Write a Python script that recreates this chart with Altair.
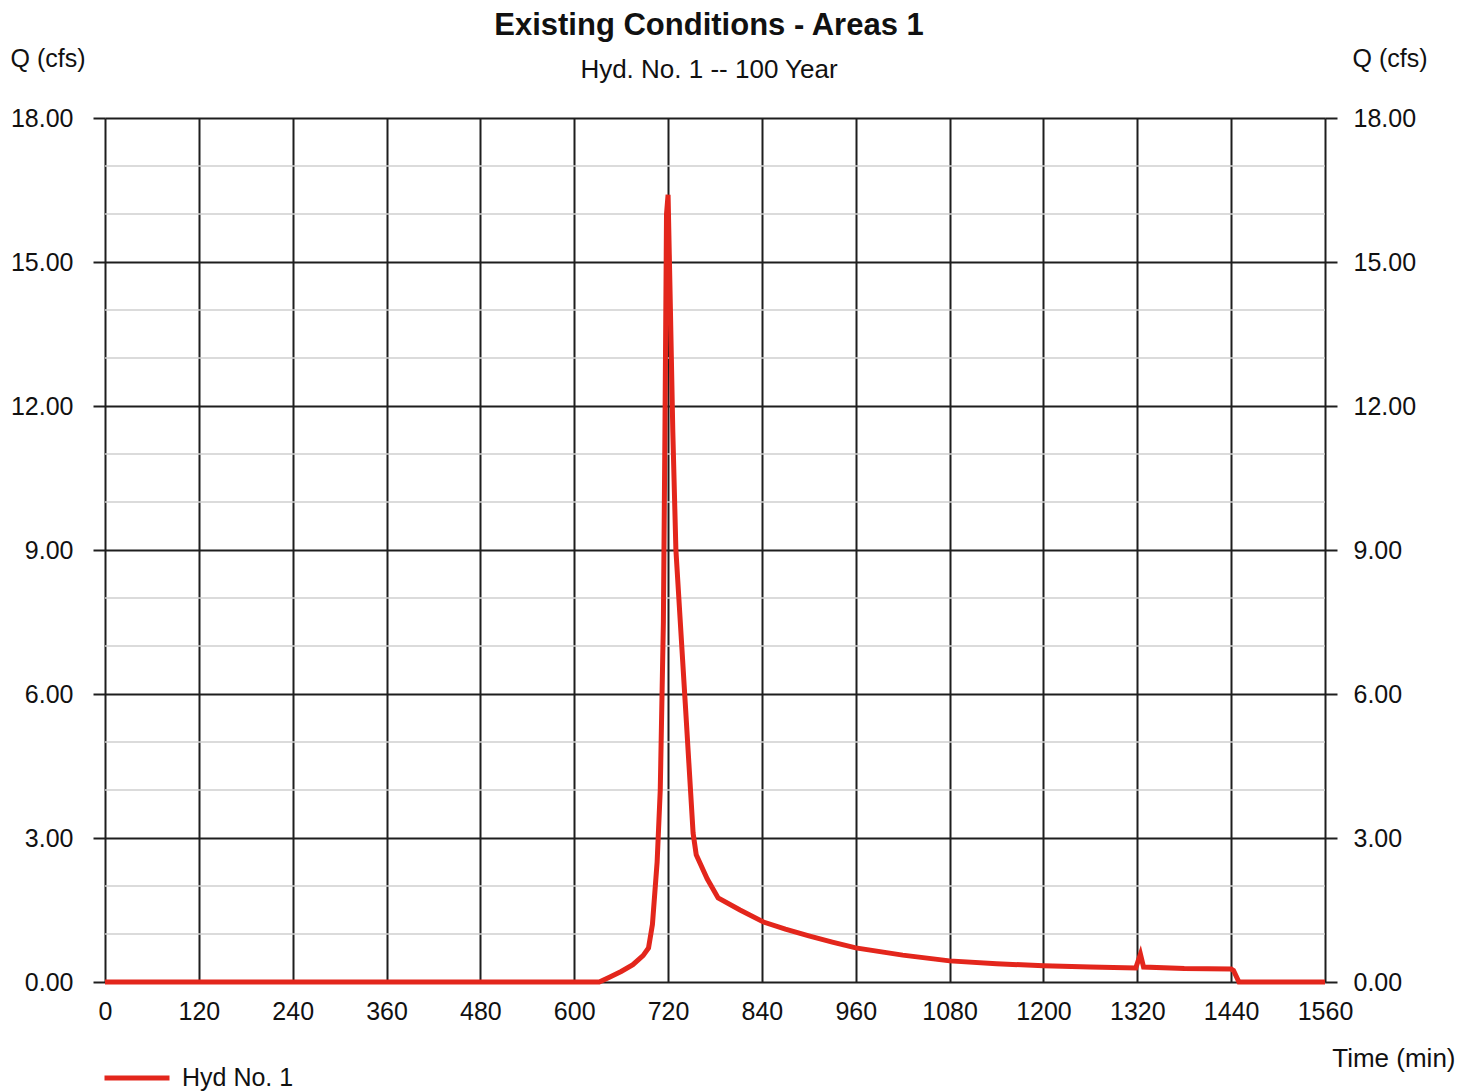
import altair as alt
import pandas as pd

# Hydrograph (time in minutes, flow in cfs)
time_min = [0, 600, 632, 645, 660, 675, 688, 695, 700, 706, 710, 714, 716, 718,
            720, 723, 726, 730, 742, 752, 756, 770, 784, 812, 842, 870, 900, 930,
            960, 1020, 1080, 1140, 1200, 1260, 1318, 1324, 1328, 1380, 1440, 1443,
            1450, 1500, 1560]
flow_cfs = [0, 0, 0, 0.1, 0.22, 0.36, 0.55, 0.71, 1.2, 2.5, 4.0, 7.5, 11.5, 16.0,
            16.4, 14.0, 11.5, 9.0, 5.8, 3.1, 2.65, 2.15, 1.75, 1.5, 1.25, 1.1, 0.96, 0.83,
            0.71, 0.56, 0.44, 0.38, 0.34, 0.31, 0.29, 0.58, 0.31, 0.28, 0.27, 0.24,
            0, 0, 0]
series_name = ["Hyd No. 1"]

major_q = [0, 3, 6, 9, 12, 15, 18]
minor_q = [1, 2, 4, 5, 7, 8, 10, 11, 13, 14, 16, 17]
time_ticks = [0, 120, 240, 360, 480, 600, 720, 840, 960, 1080, 1200, 1320, 1440, 1560]

df = pd.DataFrame({"t": time_min, "Q": flow_cfs, "series": series_name * len(time_min)})
minor_df = pd.DataFrame({"minor": minor_q})

FONT = "Liberation Sans"
INK = "#111111"
GRID = "#1e1e1e"
FS = 25

xscale = alt.Scale(domain=[0, 1560], nice=False, zero=False)
yscale = alt.Scale(domain=[0, 18], nice=False)

minor = alt.Chart(minor_df).mark_rule(color="#cfcfcf", strokeWidth=1.5).encode(
    y=alt.Y("minor:Q", scale=yscale,
            axis=alt.Axis(orient="right", values=major_q, format=".2f", grid=False,
                          domain=False, tickSize=12, tickWidth=2, tickColor=GRID,
                          labelPadding=16, labelFontSize=FS, labelFont=FONT,
                          labelColor=INK, title="Q (cfs)", titleAngle=0,
                          titleAlign="left", titleBaseline="middle",
                          titleX=27, titleY=-60, titleFontSize=FS,
                          titleFont=FONT, titleFontWeight="normal", titleColor=INK))
)

line = alt.Chart(df).mark_line(strokeWidth=5, interpolate="linear").encode(
    x=alt.X("t:Q", scale=xscale,
            axis=alt.Axis(values=time_ticks, format="d", grid=True, gridColor=GRID,
                          gridWidth=2, gridOpacity=1, domain=False, ticks=False,
                          labelPadding=17, labelFontSize=FS, labelFont=FONT,
                          labelColor=INK, labelFlush=False,
                          title="Time (min)", titleAlign="right",
                          titleBaseline="middle", titleX=1350, titleY=76,
                          titleFontSize=FS + 1, titleFont=FONT,
                          titleFontWeight="normal", titleColor=INK)),
    y=alt.Y("Q:Q", scale=yscale,
            axis=alt.Axis(orient="left", values=major_q, format=".2f", grid=True,
                          gridColor=GRID, gridWidth=2, gridOpacity=1, domain=False,
                          tickSize=12, tickWidth=2, tickColor=GRID,
                          labelPadding=20, labelFontSize=FS, labelFont=FONT,
                          labelColor=INK, title="Q (cfs)", titleAngle=0,
                          titleAlign="left", titleBaseline="middle",
                          titleX=-95, titleY=-60, titleFontSize=FS,
                          titleFont=FONT, titleFontWeight="normal", titleColor=INK)),
    color=alt.Color("series:N", scale=alt.Scale(range=["#e3261c"]),
                    legend=alt.Legend(title=None, orient="none", legendX=-3,
                                      legendY=925, symbolType="stroke",
                                      symbolStrokeWidth=5, symbolSize=4225,
                                      labelFontSize=FS, labelFont=FONT,
                                      labelColor=INK, labelOffset=10)),
)

chart = alt.layer(minor, line).resolve_axis(y="independent").resolve_scale(
    y="shared"
).properties(
    width=1220,
    height=864,
    autosize=alt.AutoSizeParams(type="none"),
    padding={"left": 105, "top": 118, "right": 134, "bottom": 109},
    title=alt.TitleParams(
        text="Existing Conditions - Areas 1",
        subtitle="Hyd. No. 1 -- 100 Year",
        anchor="middle",
        frame="group",
        offset=-38,
        dx=-6,
        fontSize=31,
        font=FONT,
        fontWeight="bold",
        color=INK,
        subtitleFontSize=26,
        subtitleFont=FONT,
        subtitleColor=INK,
        subtitlePadding=15,
    ),
).configure_view(stroke=GRID, strokeWidth=2).configure(background="white")

chart.save("out.html", embed_options={"renderer": "svg", "actions": False})
